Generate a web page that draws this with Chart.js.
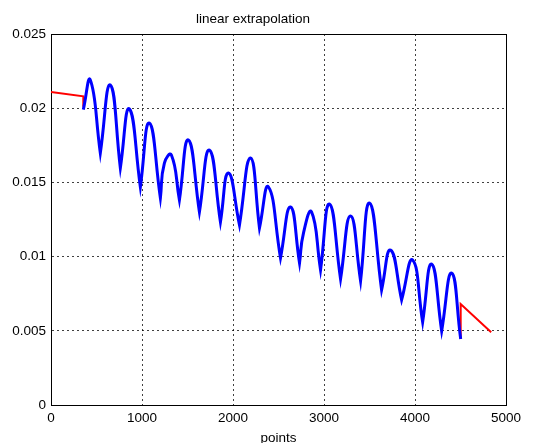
<!DOCTYPE html>
<html>
<head>
<meta charset="utf-8">
<title>linear extrapolation</title>
<script src="https://cdn.jsdelivr.net/npm/chart.js@4"></script>
<style>
  html, body { margin: 0; padding: 0; background: #fff; }
  canvas { display: block; }
</style>
</head>
<body>
<canvas id="chart" width="541" height="443"></canvas>
<script>
// values
const xTicks = [0, 1000, 2000, 3000, 4000, 5000];
const yTicks = [0, 0.005, 0.01, 0.015, 0.02, 0.025];

// blue curve: rounded tops, sharp cusps at the bottoms
const peakX = [432, 652, 861, 1081, 1323, 1510, 1741, 1950, 2192, 2390, 2632, 2863, 3061, 3292, 3501, 3732, 3974, 4183, 4403];
const peakY = [0.0219, 0.02156, 0.01995, 0.0190, 0.01685, 0.01786, 0.01718, 0.01563, 0.01664, 0.01469, 0.01334, 0.01301, 0.01354, 0.01274, 0.01361, 0.01044, 0.00977, 0.0095, 0.00889];
const troughX = [355, 542, 762, 982, 1202, 1411, 1631, 1862, 2071, 2291, 2522, 2731, 2962, 3182, 3402, 3633, 3853, 4084, 4293, 4502];
const troughY = [0.0199, 0.01698, 0.01597, 0.01469, 0.01395, 0.01381, 0.01301, 0.01233, 0.01213, 0.01193, 0.00991, 0.00957, 0.0091, 0.00849, 0.00836, 0.00775, 0.00708, 0.00559, 0.00499, 0.00445];
const shoulderX = [1246, 2775];
const shoulderY = [0.0163, 0.0116];

// red extrapolation pieces
const redStartX = [0, 355, 355];
const redStartY = [0.0211, 0.0208, 0.0201];
const redEndX = [4502, 4502, 4837];
const redEndY = [0.00445, 0.0068, 0.0049];

// merge peaks/troughs/shoulders in x order; a trough is given twice so the
// spline has a cusp there instead of a rounded bottom
const vertices = [];
peakX.forEach((x, i) => vertices.push({x, y: peakY[i], cusp: false}));
troughX.forEach((x, i) => vertices.push({x, y: troughY[i], cusp: true}));
shoulderX.forEach((x, i) => vertices.push({x, y: shoulderY[i], cusp: false}));
vertices.sort((a, b) => a.x - b.x);
const blueData = [];
vertices.forEach(v => {
  blueData.push({x: v.x, y: v.y});
  if (v.cusp) blueData.push({x: v.x, y: v.y});
});

const toXY = (xs, ys) => xs.map((x, i) => ({x, y: ys[i]}));

// solid box round the plot area, on the same pixels as the edge grid lines
const frame = {
  id: "frame",
  beforeDatasetsDraw(chart) {
    const {ctx, chartArea: a} = chart;
    ctx.save();
    ctx.strokeStyle = "#000";
    ctx.lineWidth = 1;
    const l = Math.round(a.left) + 0.5, t = Math.round(a.top) + 0.5;
    const r = Math.round(a.right) + 0.5, b = Math.round(a.bottom) + 0.5;
    ctx.strokeRect(l, t, r - l, b - t);
    ctx.restore();
  }
};

Chart.defaults.font.family = "'Liberation Sans', Arial, sans-serif";
Chart.defaults.font.size = 13.5;
Chart.defaults.color = "#000";

new Chart(document.getElementById("chart"), {
  type: "scatter",
  data: {
    datasets: [
      {
        data: blueData,
        showLine: true,
        borderColor: "#0000ff",
        borderWidth: 3,
        pointRadius: 0,
        tension: 0.5
      },
      {
        data: toXY(redStartX, redStartY),
        showLine: true,
        borderColor: "#ff0000",
        borderWidth: 2,
        pointRadius: 0,
        tension: 0
      },
      {
        data: toXY(redEndX, redEndY),
        showLine: true,
        borderColor: "#ff0000",
        borderWidth: 2,
        pointRadius: 0,
        tension: 0
      }
    ]
  },
  options: {
    responsive: false,
    animation: false,
    devicePixelRatio: 1,
    layout: { padding: { left: 0, right: 35, top: 0, bottom: 0 } },
    plugins: {
      legend: { display: false },
      tooltip: { enabled: false },
      title: {
        display: true,
        text: "linear extrapolation",
        color: "#000",
        font: { size: 13.5, weight: "normal", lineHeight: 1.2 },
        padding: { top: 11, bottom: 6.8 }
      }
    },
    scales: {
      x: {
        type: "linear",
        min: 0,
        max: 5000,
        afterBuildTicks: s => { s.ticks = xTicks.map(v => ({value: v})); },
        afterFit: s => { s.height = 38; },
        ticks: { padding: 5, maxRotation: 0, callback: v => String(v) },
        grid: { color: "rgba(0,0,0,0.75)", lineWidth: 1, drawTicks: false },
        border: { display: true, color: "#000", dash: [2, 3] },
        title: {
          display: true,
          text: "points",
          font: { size: 13.5, lineHeight: 1 },
          padding: { top: 0, bottom: -2 }
        }
      },
      y: {
        type: "linear",
        min: 0,
        max: 0.025,
        afterBuildTicks: s => { s.ticks = yTicks.map(v => ({value: v})); },
        afterFit: s => { s.width = 51; },
        ticks: { padding: 5, callback: v => String(+v.toFixed(3)) },
        grid: { color: "rgba(0,0,0,0.75)", lineWidth: 1, drawTicks: false },
        border: { display: true, color: "#000", dash: [2, 3] }
      }
    }
  },
  plugins: [frame]
});
</script>
</body>
</html>
